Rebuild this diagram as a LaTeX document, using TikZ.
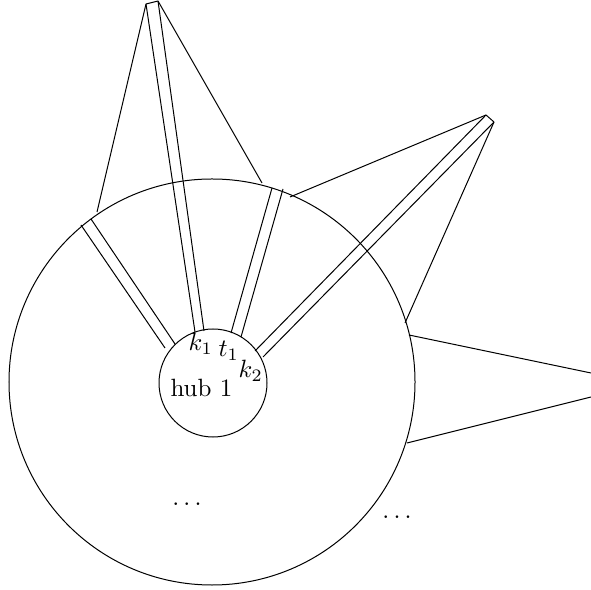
\documentclass[tikz,border=0pt]{standalone}
\tikzset{
  edge/.style={draw=black, line width=0.4pt},
  lbl/.style={inner sep=0pt, anchor=base west},
}
\begin{document}
\begin{tikzpicture}[x=0.4pt, y=-0.4pt]
\useasboundingbox (0,0) rectangle (591,590);
% circles
\node[circle, draw, minimum size=162.4pt, inner sep=0pt] (outer) at (212,382) {};
\node[circle, draw, minimum size=43.2pt, inner sep=0pt] (hub) at (213,383) {};
% spoke 1
\coordinate (s1a) at (81,225);  \coordinate (h1a) at (165,348);
\coordinate (s1b) at (91,219);  \coordinate (h1b) at (175,344);
\draw[edge] (s1a) -- (h1a); \draw[edge] (s1b) -- (h1b);
% spoke 2 (to top apex)
\coordinate (t2a) at (146,4);   \coordinate (h2a) at (195,332);
\coordinate (t2b) at (158,1);   \coordinate (h2b) at (204,331);
\draw[edge] (t2a) -- (h2a); \draw[edge] (t2b) -- (h2b);
\draw[edge] (t2a) -- (t2b);
\coordinate (c2a) at (97,212); \coordinate (c2b) at (262,183);
\draw[edge] (t2a) -- (c2a); \draw[edge] (t2b) -- (c2b);
% spoke 3
\coordinate (s3a) at (272,188); \coordinate (h3a) at (231,333);
\coordinate (s3b) at (283,189); \coordinate (h3b) at (241,337);
\draw[edge] (s3a) -- (h3a); \draw[edge] (s3b) -- (h3b);
% spoke 4 (to right apex)
\coordinate (t4a) at (486,115); \coordinate (h4a) at (255,351);
\coordinate (t4b) at (494,122); \coordinate (h4b) at (263,357);
\draw[edge] (t4a) -- (h4a); \draw[edge] (t4b) -- (h4b);
\draw[edge] (t4a) -- (t4b);
\coordinate (c4a) at (290,197); \coordinate (c4b) at (405,323);
\draw[edge] (t4a) -- (c4a); \draw[edge] (t4b) -- (c4b);
% right fan (apex off the picture)
\coordinate (c5a) at (409,335); \coordinate (e5a) at (591,373);
\coordinate (c5b) at (407,443); \coordinate (e5b) at (591,397);
\draw[edge] (c5a) -- (e5a); \draw[edge] (c5b) -- (e5b);
% labels
\node[lbl] (hubl) at (170,397) {hub 1};
\node[lbl] (k1) at (188,351) {$k_1$};
\node[lbl] (t1) at (218,357) {$t_1$};
\node[lbl] (k2) at (238,378) {$k_2$};
\node[inner sep=0pt, anchor=base] (d1) at (187,505.5) {$\dots$};
\node[inner sep=0pt, anchor=base] (d2) at (397,518.5) {$\dots$};
\end{tikzpicture}
\end{document}
